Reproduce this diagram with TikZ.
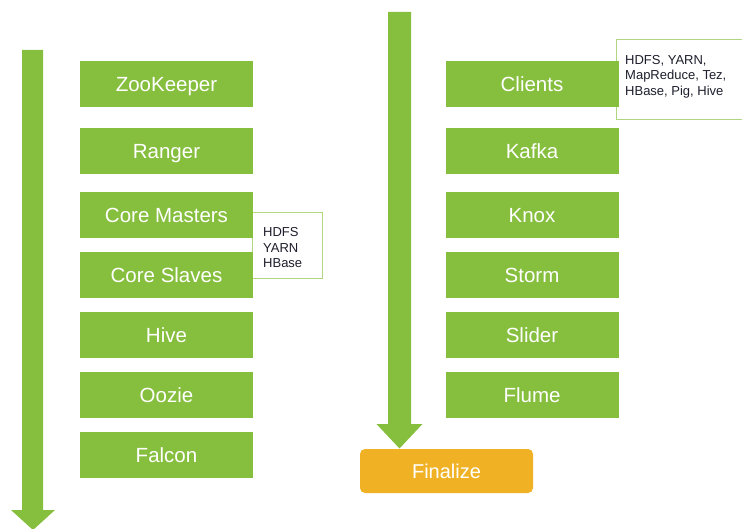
\documentclass[tikz,border=0pt]{standalone}
\usepackage{fontspec}
\setmainfont{Liberation Sans}
\definecolor{hgreen}{RGB}{134,190,62}
\definecolor{horange}{RGB}{240,178,36}
\definecolor{cborder}{RGB}{176,214,130}
\definecolor{ctext}{RGB}{30,30,45}
\tikzset{
  svc/.style={fill=hgreen, draw=none, minimum width=173pt, minimum height=46pt, inner sep=0pt,
    text=white, font=\fontsize{20.5}{24}\selectfont, text height=14.5pt, text depth=0pt},
  finbox/.style={fill=horange, draw=none, rounded corners=5pt, minimum width=173pt, minimum height=44pt,
    inner sep=0pt, text=white, font=\fontsize{20}{24}\selectfont, text height=14.3pt, text depth=0pt},
  callout/.style={draw=cborder, line width=1pt, fill=white},
  calltext/.style={text=ctext, align=left, inner sep=0pt, anchor=north west,
    font=\fontsize{13}{15.5}\selectfont},
  bigarrow/.style={fill=hgreen, draw=none}
}
\begin{document}
\begin{tikzpicture}[x=1pt,y=-1pt]
\useasboundingbox (0,0) rectangle (742,529);
% callouts (behind boxes)
\draw[callout] (252,213) rectangle (322,279);
\node[calltext] (cl) at (263,227.5) {HDFS\\YARN\\HBase};
\draw[callout] (616,40) rectangle (750,120);
\node[calltext] (cr) at (625,55) {HDFS, YARN,\\MapReduce, Tez,\\HBase, Pig, Hive};
% left column
\node[svc] (zk) at (166.5,84.5) {ZooKeeper};
\node[svc] (ra) at (166.5,151.5) {Ranger};
\node[svc] (cm) at (166.5,215) {Core Masters};
\node[svc] (cs) at (166.5,275) {Core Slaves};
\node[svc] (hi) at (166.5,335) {Hive};
\node[svc] (oo) at (166.5,395) {Oozie};
\node[svc] (fa) at (166.5,455) {Falcon};
% right column
\node[svc] (cli) at (532,84) {Clients};
\node[svc] (ka) at (532,151) {Kafka};
\node[svc] (kn) at (532,215) {Knox};
\node[svc] (st) at (532,275) {Storm};
\node[svc] (sl) at (532,335) {Slider};
\node[svc] (fl) at (532,395) {Flume};
\node[finbox] (fin) at (446.5,471) {Finalize};
% left big arrow
\fill[bigarrow] (22,50) -- (43,50) -- (43,510) -- (55,510) -- (33,530) -- (11,510) -- (22,510) -- cycle;
% right big arrow ending at Finalize
\coordinate (rtip) at (399.5,448.5);
\fill[bigarrow] (388,12) -- (411,12) -- (411,424) -- (422.5,424) -- (rtip) -- (376.5,424) -- (388,424) -- cycle;
\end{tikzpicture}
\end{document}
